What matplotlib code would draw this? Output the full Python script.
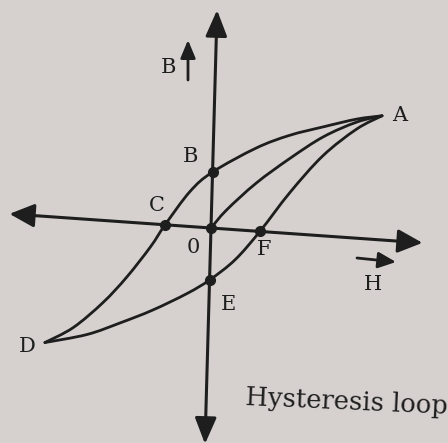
import matplotlib.pyplot as plt
import numpy as np
from matplotlib.path import Path
from matplotlib.patches import PathPatch
from matplotlib.transforms import Affine2D

# Hysteresis loop, (H, B) with O at the origin
upper_h = [168, 143, 110, 76, 43, 0, -22, -46, -60, -83, -106, -135, -163]    # A -> B -> C -> D
upper_b = [124, 119, 109, 98, 83, 56, 35, 0, -23, -55, -82, -109, -126]
lower_h = [-163, -121, -88, -56, -22, 0, 25, 49, 78, 110, 143, 168]           # D -> E -> F -> A
lower_b = [-126, -115, -101, -86, -67, -52, -30, 0, 41, 80, 109, 124]
initial_h = [0, 15, 44, 77, 110, 143, 168]                                    # O -> A
initial_b = [0, 19, 48, 75, 99, 116, 124]

# marked points B, C, O, E, F
dot_h = [0, -46, 0, 0, 49]
dot_b = [56, 0, 0, -52, 0]

# axis extents
h_axis = [-202, 212]
b_axis = [-216, 218]

ink = '#1e1e1e'
paper = '#d6d1cf'


def smooth_path(xs, ys):
    # catmull-rom through the read points, as cubic bezier segments
    p = np.column_stack([xs, ys]).astype(float)
    p_ext = np.vstack([p[0], p, p[-1]])
    verts = [p[0]]
    codes = [Path.MOVETO]
    for i in range(1, len(p_ext) - 2):
        p0, p1, p2, p3 = p_ext[i - 1], p_ext[i], p_ext[i + 1], p_ext[i + 2]
        verts += [p1 + (p2 - p0) / 6, p2 - (p3 - p1) / 6, p2]
        codes += [Path.CURVE4] * 3
    return Path(verts, codes)


fig = plt.figure(figsize=(4.48, 4.43), dpi=100, facecolor=paper)
ax = fig.add_axes([0, 0, 1, 1])
ax.set_xlim(0, 448)
ax.set_ylim(443, 0)
ax.set_facecolor(paper)
ax.axis('off')

# the photographed page is slightly tilted
frame = Affine2D.from_values(0.9975, 0.0700, 0.0278, -0.9996, 211, 228) + ax.transData

# axes with arrowheads at both ends
ax.annotate('', xy=(h_axis[1], 0), xytext=(h_axis[0], 0), xycoords=frame, textcoords=frame,
            arrowprops=dict(arrowstyle='<|-|>,head_length=0.76,head_width=0.36', mutation_scale=20,
                            lw=2.2, color=ink, shrinkA=0, shrinkB=0))
ax.annotate('', xy=(0, b_axis[1]), xytext=(0, b_axis[0]), xycoords=frame, textcoords=frame,
            arrowprops=dict(arrowstyle='<|-|>,head_length=0.8,head_width=0.33', mutation_scale=20,
                            lw=2.2, color=ink, shrinkA=0, shrinkB=0))

for xs, ys in [(upper_h, upper_b), (lower_h, lower_b), (initial_h, initial_b)]:
    ax.add_patch(PathPatch(smooth_path(xs, ys), transform=frame, fill=False,
                           edgecolor=ink, lw=2.0, capstyle='round', joinstyle='round'))

ax.plot(dot_h, dot_b, 'o', ms=7, color=ink, transform=frame, zorder=5)

# letters
lab = dict(fontfamily='DejaVu Serif', fontsize=15, color=ink, ha='center', va='center')
ax.text(400, 115, 'A', **lab)
ax.text(190, 157, 'B', **lab)
ax.text(157, 205, 'C', **lab)
ax.text(193, 247, '0', **lab)
ax.text(264, 249, 'F', **lab)
ax.text(228, 305, 'E', **lab)
ax.text(27, 346, 'D', **lab)
ax.text(168, 67, 'B', **lab)
ax.text(373, 285, 'H', **lab)

# small direction arrows next to B and H
ax.annotate('', xy=(188, 40), xytext=(188, 80),
            arrowprops=dict(arrowstyle='-|>,head_length=0.6,head_width=0.25', mutation_scale=18,
                            lw=2, color=ink, shrinkA=0, shrinkB=0))
ax.annotate('', xy=(396, 262), xytext=(357, 258),
            arrowprops=dict(arrowstyle='-|>,head_length=0.6,head_width=0.27', mutation_scale=18,
                            lw=2, color=ink, shrinkA=0, shrinkB=0))

ax.text(245, 405, 'Hysteresis loop', fontfamily='DejaVu Serif', fontsize=18.5, color=ink,
        ha='left', va='baseline', rotation=-2.5, rotation_mode='anchor')

fig.savefig('out.png', dpi=100, facecolor=paper)
